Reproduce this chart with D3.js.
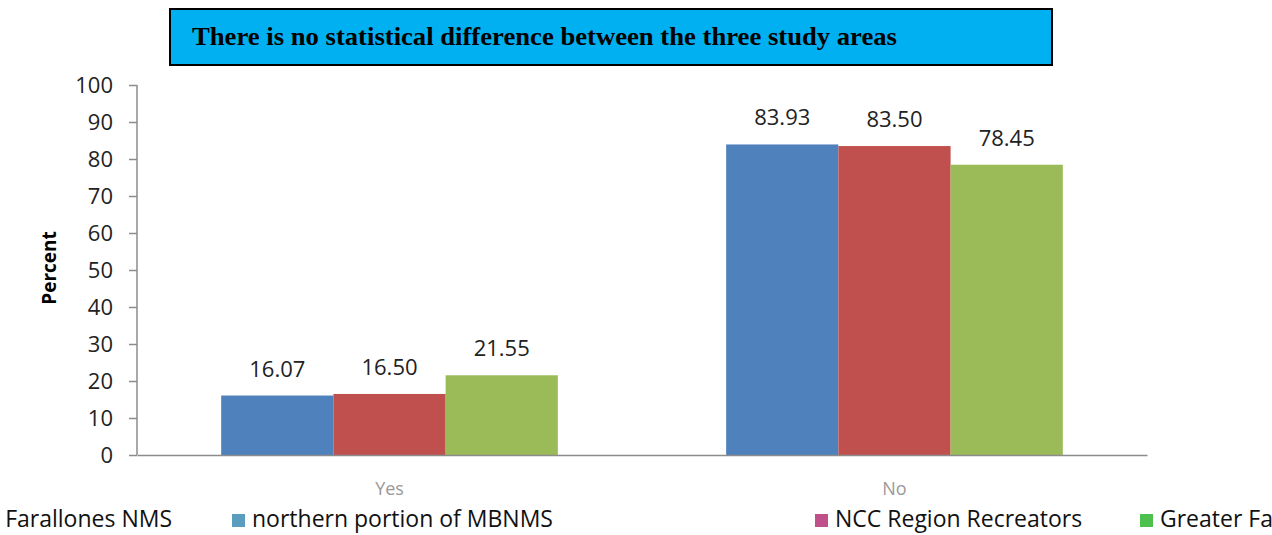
<!DOCTYPE html>
<html>
<head>
<meta charset="utf-8">
<script src="https://cdn.jsdelivr.net/npm/d3@7"></script>
<style>
  html, body { margin: 0; padding: 0; background: #fff; }
  svg { display: block; }
</style>
</head>
<body>
<div id="chart"></div>
<script>
(function() {
  // data
  var categories = ['Yes', 'No'];
  var seriesNames = ['Greater Farallones NMS', 'northern portion of MBNMS', 'NCC Region Recreators'];
  var seriesColors = ['#4F81BD', '#C0504D', '#9BBB59'];
  var yesValues = [16.07, 16.50, 21.55];
  var noValues = [83.93, 83.50, 78.45];
  var yTicks = [0, 10, 20, 30, 40, 50, 60, 70, 80, 90, 100];

  var legendLabels = ['Greater Farallones NMS', 'northern portion of MBNMS', 'NCC Region Recreators', 'Greater Farallones NMS'];
  var legendColors = ['#4F81BD', '#5A9DBE', '#C0508A', '#4EC04E'];
  var titleText = 'There is no statistical difference between the three study areas';

  var WIDTH = 1272, HEIGHT = 535;
  var plot = { left: 137, right: 1147, top: 85, bottom: 455 };
  var FONT = '"Open Sans", "Noto Sans", sans-serif';

  var svg = d3.select('#chart').append('svg')
    .attr('width', WIDTH)
    .attr('height', HEIGHT);

  var rows = categories.map(function(c, i) {
    var vals = i === 0 ? yesValues : noValues;
    return { cat: c, vals: vals };
  });

  var y = d3.scaleLinear().domain([0, 100]).range([plot.bottom, plot.top]);
  var x0 = d3.scaleBand().domain(categories).range([plot.left, plot.right]).paddingInner(0.3333).paddingOuter(0.1667);
  var x1 = d3.scaleBand().domain(d3.range(seriesNames.length)).range([0, x0.bandwidth()]);

  // title box
  svg.append('rect')
    .attr('x', 170).attr('y', 9)
    .attr('width', 882).attr('height', 56)
    .attr('fill', '#00B0F0')
    .attr('stroke', '#000')
    .attr('stroke-width', 2);
  svg.append('text')
    .attr('x', 192).attr('y', 45)
    .attr('font-family', '"Liberation Serif", "Times New Roman", serif')
    .attr('font-weight', 'bold')
    .attr('font-size', 26)
    .attr('textLength', 705)
    .attr('lengthAdjust', 'spacingAndGlyphs')
    .attr('fill', '#000')
    .text(titleText);

  // bars
  var groups = svg.append('g').selectAll('g')
    .data(rows)
    .enter().append('g')
    .attr('transform', function(d) { return 'translate(' + x0(d.cat) + ',0)'; });

  groups.selectAll('rect')
    .data(function(d) { return d.vals; })
    .enter().append('rect')
    .attr('x', function(d, i) { return x1(i); })
    .attr('y', function(d) { return y(d); })
    .attr('width', x1.bandwidth())
    .attr('height', function(d) { return plot.bottom - y(d); })
    .attr('fill', function(d, i) { return seriesColors[i]; });

  groups.selectAll('text')
    .data(function(d) { return d.vals; })
    .enter().append('text')
    .attr('x', function(d, i) { return x1(i) + x1.bandwidth() / 2; })
    .attr('y', function(d) { return y(d) - 19; })
    .attr('text-anchor', 'middle')
    .attr('font-family', FONT)
    .attr('font-size', 22)
    .attr('fill', '#222')
    .text(function(d) { return d.toFixed(2); });

  // y axis
  var yAxis = svg.append('g')
    .attr('transform', 'translate(' + plot.left + ',0)')
    .call(d3.axisLeft(y).tickValues(yTicks).tickSize(8).tickPadding(16));
  yAxis.selectAll('path, line').attr('stroke', '#8c8c8c').attr('stroke-width', 1.5);
  yAxis.select('.domain').attr('d', 'M0,' + plot.top + 'V' + plot.bottom);
  yAxis.selectAll('text')
    .attr('font-family', FONT)
    .attr('font-size', 22)
    .attr('fill', '#222');

  // x axis
  var xAxis = svg.append('g')
    .attr('transform', 'translate(0,' + plot.bottom + ')')
    .call(d3.axisBottom(x0).tickSize(0).tickPadding(27));
  xAxis.select('.domain').attr('stroke', '#8c8c8c').attr('stroke-width', 1.5);
  xAxis.selectAll('text')
    .attr('font-family', FONT)
    .attr('font-size', 18)
    .attr('fill', '#999');

  svg.append('text')
    .attr('transform', 'translate(56,268) rotate(-90)')
    .attr('text-anchor', 'middle')
    .attr('font-family', FONT)
    .attr('font-weight', 'bold')
    .attr('font-size', 19)
    .attr('fill', '#000')
    .text('Percent');

  // legend (runs off both edges as in the picture)
  var legendX = [null, 232, 815, 1140];
  var legend = svg.append('g').selectAll('g')
    .data(legendLabels)
    .enter().append('g');
  legend.append('rect')
    .attr('x', 0).attr('y', 514)
    .attr('width', 13).attr('height', 13)
    .attr('fill', function(d, i) { return legendColors[i]; });
  legend.append('text')
    .attr('x', 20).attr('y', 527)
    .attr('font-family', FONT)
    .attr('font-size', 23)
    .attr('fill', '#111')
    .text(function(d) { return d; });
  // first entry is placed so that its text ends where the picture shows it
  legend.attr('transform', function(d, i) {
    var lx = legendX[i];
    if (lx === null) {
      lx = 172 - 20 - d3.select(this).select('text').node().getComputedTextLength();
    }
    return 'translate(' + lx + ',0)';
  });
})();
</script>
</body>
</html>
